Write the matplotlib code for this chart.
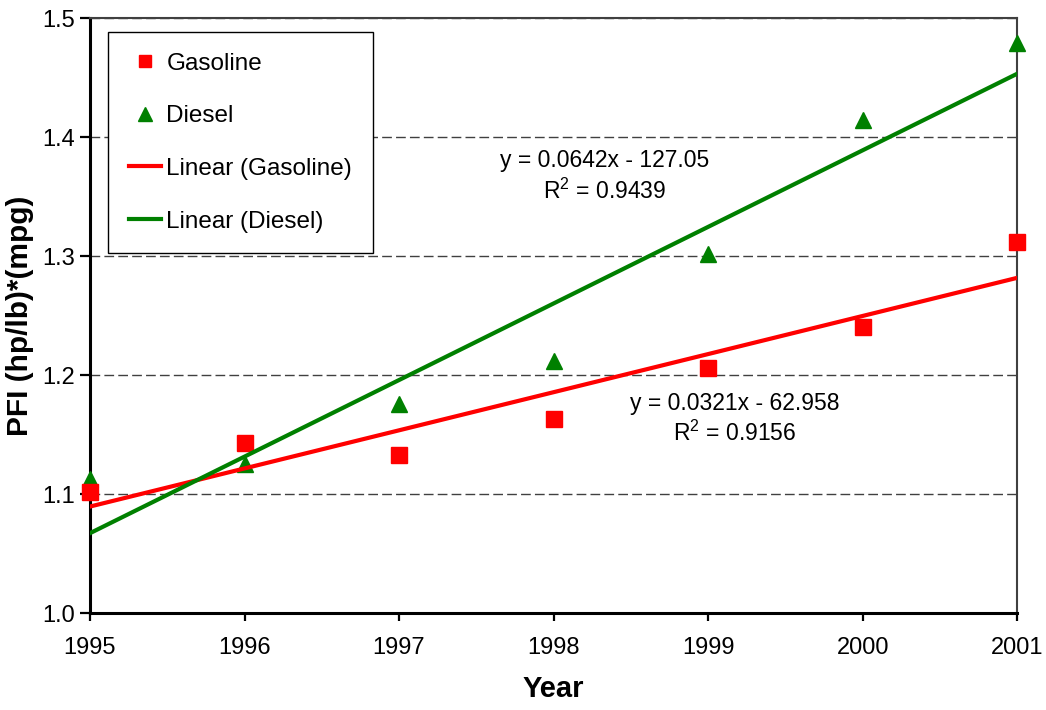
import numpy as np
import matplotlib
matplotlib.use('Agg')
from matplotlib import pyplot as plt

plt.rcParams['font.family'] = ['Liberation Sans', 'DejaVu Sans']
plt.rcParams['mathtext.fontset'] = 'custom'
plt.rcParams['mathtext.rm'] = 'Liberation Sans'
plt.rcParams['mathtext.it'] = 'Liberation Sans:italic'

years = [1995, 1996, 1997, 1998, 1999, 2000, 2001]
gasoline = [1.102, 1.143, 1.133, 1.163, 1.206, 1.240, 1.312]
diesel = [1.113, 1.125, 1.176, 1.212, 1.302, 1.414, 1.479]

gas_eq = 'y = 0.0321x - 62.958\nR$^2$ = 0.9156'
dsl_eq = 'y = 0.0642x - 127.05\nR$^2$ = 0.9439'

red = '#FF0000'
green = '#008000'

fig = plt.figure(figsize=(10.46, 7.10), dpi=100)
ax = fig.add_axes([0.086, 0.1366, 0.8865, 0.838])

x = np.array(years, dtype=float)
# linear trendlines
pg = np.polyfit(x - 1995, gasoline, 1)
pd_ = np.polyfit(x - 1995, diesel, 1)
xx = np.array([1995, 2001], dtype=float)

h_d, = ax.plot(years, diesel, linestyle='none', marker='^', markersize=12,
               color=green, label='Diesel', zorder=3, clip_on=False)
h_g, = ax.plot(years, gasoline, linestyle='none', marker='s', markersize=11,
               color=red, label='Gasoline', zorder=3, clip_on=False)
h_lg, = ax.plot(xx, np.polyval(pg, xx - 1995), color=red, lw=3,
                label='Linear (Gasoline)', zorder=4)
h_ld, = ax.plot(xx, np.polyval(pd_, xx - 1995), color=green, lw=3,
                label='Linear (Diesel)', zorder=4)

ax.text(1998.33, 1.367, dsl_eq, ha='center', va='center', fontsize=16.5,
        linespacing=1.3)
ax.text(1999.17, 1.163, gas_eq, ha='center', va='center', fontsize=16.5,
        linespacing=1.3)

ax.set_xlim(1995, 2001)
ax.set_ylim(1.0, 1.5)
ax.set_xticks(years)
ax.set_yticks(np.arange(1.0, 1.51, 0.1))
ax.set_yticklabels(['%.1f' % v for v in np.arange(1.0, 1.51, 0.1)])

for s in ['left', 'bottom']:
    ax.spines[s].set_color('black')
    ax.spines[s].set_linewidth(2.2)
for s in ['top', 'right']:
    ax.spines[s].set_color('#404040')
    ax.spines[s].set_linewidth(1.5)

ax.tick_params(axis='y', direction='out', length=7, width=1.6, labelsize=17, pad=4)
ax.tick_params(axis='x', direction='out', length=6, width=1.6, labelsize=17, pad=11)

ax.yaxis.grid(True, linestyle=(0, (7, 3)), color='#404040', linewidth=1)
ax.set_axisbelow(True)

ax.set_xlabel('Year', fontsize=21, fontweight='bold', labelpad=12)
ax.set_ylabel('PFI (hp/lb)*(mpg)', fontsize=21.5, fontweight='bold', labelpad=6)

leg = ax.legend(handles=[h_g, h_d, h_lg, h_ld], loc='upper left',
                bbox_to_anchor=(0.0194, 0.9765), borderaxespad=0,
                fancybox=False, edgecolor='black', framealpha=1,
                fontsize=17.5, labelspacing=1.26, handlelength=1.35,
                handletextpad=0.2, borderpad=0.85, markerscale=0.8)
leg.get_frame().set_linewidth(1)
leg.set_zorder(5)

fig.savefig('out.png', dpi=100)
